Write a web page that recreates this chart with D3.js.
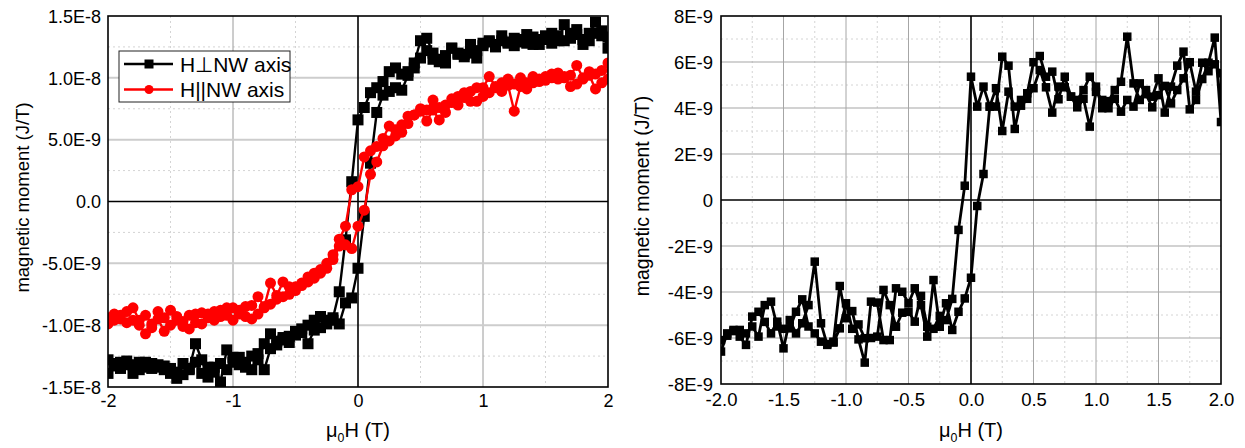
<!DOCTYPE html>
<html>
<head>
<meta charset="utf-8">
<script src="https://cdn.jsdelivr.net/npm/d3@7"></script>
<style>
  html, body { margin: 0; padding: 0; background: #fff; }
  svg { display: block; font-family: Arial, "Liberation Sans", sans-serif; }
</style>
</head>
<body>
<svg id="chart" width="1245" height="448"></svg>
<script>
/* ================================================
   M(H) hysteresis loops — two panels
   values in units of 1E-9 J/T, field in T
   ================================================ */

// field grid shared by every branch (T)
const fieldT = [
  -2.00,-1.95,-1.90,-1.85,-1.80,-1.75,-1.70,-1.65,-1.60,-1.55,
  -1.50,-1.45,-1.40,-1.35,-1.30,-1.25,-1.20,-1.15,-1.10,-1.05,
  -1.00,-0.95,-0.90,-0.85,-0.80,-0.75,-0.70,-0.65,-0.60,-0.55,
  -0.50,-0.45,-0.40,-0.35,-0.30,-0.25,-0.20,-0.15,-0.10,-0.05,
   0.00,
   0.05, 0.10, 0.15, 0.20, 0.25, 0.30, 0.35, 0.40, 0.45, 0.50,
   0.55, 0.60, 0.65, 0.70, 0.75, 0.80, 0.85, 0.90, 0.95, 1.00,
   1.05, 1.10, 1.15, 1.20, 1.25, 1.30, 1.35, 1.40, 1.45, 1.50,
   1.55, 1.60, 1.65, 1.70, 1.75, 1.80, 1.85, 1.90, 1.95, 2.00
];

// ---- left panel, H perpendicular to NW axis (black) ----
const perpUp = [
  -13.9,-13.1,-13.0,-13.2,-13.9,-13.0,-13.4,-13.1,-13.4,-13.6,
  -13.9,-14.3,-13.1,-13.5,-11.5,-12.8,-14.2,-13.4,-14.6,-12.0,
  -13.0,-12.6,-13.4,-13.6,-12.3,-13.6,-11.9,-11.6,-11.2,-11.4,
  -10.8,-10.3,-11.5,-10.4,-10.2,-9.9,-9.6,-9.9,-8.2,-7.8,
  -5.4,
  -1.2, 3.1, 7.2, 8.6, 8.9, 9.2, 9.0, 10.2, 10.8, 11.6,
  12.2, 11.5, 11.3, 11.8, 12.4, 11.9, 11.7, 12.0, 11.6, 12.6,
  12.9, 12.5, 13.0, 12.8, 13.2, 12.9, 13.5, 12.7, 13.1, 13.4,
  13.6, 13.0, 14.3, 13.6, 13.9, 13.1, 13.6, 14.5, 13.8, 12.4
];
const perpDown = [
  -12.8,-13.3,-13.5,-12.9,-13.2,-13.6,-13.0,-13.5,-13.2,-13.3,
  -13.5,-13.8,-14.0,-13.6,-13.0,-13.9,-13.4,-13.8,-13.1,-13.6,
  -12.6,-13.2,-13.0,-12.5,-12.8,-11.5,-10.7,-11.3,-11.0,-10.9,
  -10.5,-10.6,-10.0,-9.6,-9.3,-9.6,-9.4,-7.3,-3.1, 1.6,
  6.6,
  7.6, 8.8, 9.2, 9.7, 10.5, 10.8, 10.3, 10.5, 11.2, 13.0,
  13.2, 12.0, 11.5, 11.2, 12.4, 12.0, 11.9, 12.7, 12.2, 12.8,
  13.0, 12.7, 13.4, 12.9, 12.6, 13.1, 12.8, 13.3, 12.7, 13.1,
  12.8, 13.4, 13.0, 13.2, 13.5, 12.7, 13.0, 13.6, 13.4, 13.3
];

// ---- left panel, H parallel to NW axis (red) ----
const paraUp = [
  -9.4,-9.1,-9.5,-9.8,-9.6,-10.0,-10.7,-10.2,-9.5,-10.5,
  -10.0,-9.6,-10.1,-10.3,-9.8,-9.9,-9.4,-9.6,-9.3,-9.2,
  -9.6,-9.1,-9.3,-9.5,-9.1,-8.6,-8.3,-7.9,-7.7,-7.5,
  -7.2,-6.8,-6.5,-6.2,-5.8,-5.4,-4.7,-3.6,-3.5,-3.8,
  -2.0,
  -0.7, 2.2, 3.2, 4.5, 4.9, 5.3, 5.6, 6.3, 7.0, 7.3,
  6.5, 7.4, 6.6, 7.2, 8.0, 7.8, 8.4, 8.1, 8.1, 8.5,
  8.8, 9.2, 8.9, 9.4, 7.3, 9.3, 9.1, 9.6, 9.7, 9.8,
  10.0, 9.9, 10.1, 9.3, 9.5, 9.9, 10.2, 9.1, 9.6, 9.9
];
const paraDown = [
  -9.9,-9.6,-9.2,-8.9,-8.6,-9.6,-9.2,-9.9,-8.9,-9.4,
  -8.8,-9.3,-9.7,-9.2,-9.1,-9.0,-9.1,-8.9,-8.8,-8.6,
  -8.6,-8.8,-8.5,-8.4,-7.7,-8.5,-6.6,-7.6,-6.5,-6.9,
  -6.9,-6.6,-6.1,-5.8,-5.5,-5.0,-4.3,-3.05,-2.0, 0.95,
  1.2,
  3.6, 4.1, 4.45, 5.1, 6.1, 5.8, 6.2, 6.9, 7.0, 7.5,
  7.4, 8.2, 7.6, 7.8, 8.3, 8.5, 8.8, 8.9, 9.2, 9.2,
  10.1, 9.3, 9.6, 9.9, 9.5, 10.0, 9.6, 10.1, 9.9, 10.1,
  10.3, 10.4, 10.0, 10.2, 11.0, 10.0, 10.5, 10.3, 10.6, 11.2
];

// ---- right panel (black) ----
const rightUp = [
  -6.59,-5.8,-5.65,-5.94,-6.3,-5.07,-4.86,-5.3,-5.8,-5.29,
  -6.45,-5.22,-5.8,-5.36,-4.57,-2.68,-5.36,-6.3,-6.16,-3.74,
  -5.14,-4.83,-6.06,-7.07,-4.42,-4.46,-6.09,-6.09,-3.84,-3.99,
  -4.49,-3.84,-4.57,-5.94,-3.48,-5.51,-4.49,-5.65,-4.86,-4.28,
  -3.38,
  -0.26, 1.13, 4.06, 4.06, 6.23, 5.84, 3.09, 4.35, 4.64, 5.99,
  6.26, 5.36, 5.58, 4.38, 5.36, 4.49, 4.35, 4.78, 5.36, 4.93,
  3.99, 4.3, 4.78, 5.14, 7.1, 5.07, 4.35, 4.78, 4.49, 5.29,
  3.8, 4.93, 5.84, 6.45, 3.94, 4.35, 5.26, 5.97, 7.06, 3.39
];
const rightDown = [
  -6.09,-5.9,-5.7,-5.65,-5.8,-5.5,-5.94,-4.57,-4.42,-5.5,
  -5.6,-5.58,-4.86,-4.32,-5.5,-5.8,-6.16,-6.26,-6.2,-5.58,
  -4.49,-5.6,-5.41,-6.01,-6.0,-5.94,-3.91,-4.57,-5.51,-4.9,
  -4.86,-5.29,-4.17,-5.51,-5.6,-5.04,-5.22,-4.3,-1.3, 0.62,
  5.36,
  4.06, 4.93, 4.06, 4.86, 3.0, 4.71, 4.06, 4.1, 4.4, 4.86,
  5.65, 4.9, 3.8, 4.93, 4.9, 4.5, 4.03, 4.4, 3.19, 4.7,
  4.35, 3.99, 4.4, 3.84, 4.35, 4.06, 5.07, 4.6, 4.03, 4.56,
  4.96, 4.2, 4.78, 5.29, 5.99, 4.71, 5.97, 5.6, 5.9, 5.51
];

// ---- ticks ----
const leftXTicks  = [-2, -1, 0, 1, 2];
const leftXLabels = ['-2', '-1', '0', '1', '2'];
const leftYTicks  = [-15, -10, -5, 0, 5, 10, 15];
const leftYLabels = ['-1.5E-8', '-1.0E-8', '-5.0E-9', '0.0', '5.0E-9', '1.0E-8', '1.5E-8'];

const rightXTicks  = [-2, -1.5, -1, -0.5, 0, 0.5, 1, 1.5, 2];
const rightXLabels = ['-2.0', '-1.5', '-1.0', '-0.5', '0.0', '0.5', '1.0', '1.5', '2.0'];
const rightYTicks  = [-8, -6, -4, -2, 0, 2, 4, 6, 8];
const rightYLabels = ['-8E-9', '-6E-9', '-4E-9', '-2E-9', '0', '2E-9', '4E-9', '6E-9', '8E-9'];

const legendLabels = ['H\u22a5NW axis', 'H||NW axis'];

// loop = ascending branch then descending branch back to -2 T
function loop(up, down) {
  const a = fieldT.map((h, i) => [h, up[i]]);
  const b = fieldT.map((h, i) => [h, down[i]]).reverse();
  return a.concat(b);
}

const svg = d3.select('#chart');

function drawPanel(p) {
  const x = d3.scaleLinear().domain([-2, 2]).range([p.left, p.right]);
  const y = d3.scaleLinear().domain(p.yDomain).range([p.bottom, p.top]);
  const g = svg.append('g');

  g.append('clipPath').attr('id', p.id + '-clip')
    .append('rect')
    .attr('x', p.left).attr('y', p.top)
    .attr('width', p.right - p.left).attr('height', p.bottom - p.top);

  // minor grid (dotted)
  g.selectAll('.gx-minor').data(p.xMinor).enter().append('line')
    .attr('x1', d => x(d)).attr('x2', d => x(d))
    .attr('y1', p.top).attr('y2', p.bottom)
    .attr('stroke', '#d4d4d4').attr('stroke-width', 1).attr('stroke-dasharray', '2,3');
  g.selectAll('.gy-minor').data(p.yMinor).enter().append('line')
    .attr('x1', p.left).attr('x2', p.right)
    .attr('y1', d => y(d)).attr('y2', d => y(d))
    .attr('stroke', '#d4d4d4').attr('stroke-width', 1).attr('stroke-dasharray', '2,3');

  // major grid
  g.selectAll('.gx-major').data(p.xMajor).enter().append('line')
    .attr('x1', d => x(d)).attr('x2', d => x(d))
    .attr('y1', p.top).attr('y2', p.bottom)
    .attr('stroke', p.xMajorColor).attr('stroke-width', p.xMajorWidth);
  g.selectAll('.gy-major').data(p.yMajor).enter().append('line')
    .attr('x1', p.left).attr('x2', p.right)
    .attr('y1', d => y(d)).attr('y2', d => y(d))
    .attr('stroke', p.yMajorColor).attr('stroke-width', p.yMajorWidth);

  // zero lines
  g.append('line').attr('x1', x(0)).attr('x2', x(0)).attr('y1', p.top).attr('y2', p.bottom)
    .attr('stroke', '#000').attr('stroke-width', 1.6);
  g.append('line').attr('x1', p.left).attr('x2', p.right).attr('y1', y(0)).attr('y2', y(0))
    .attr('stroke', '#000').attr('stroke-width', 1.6);

  // series
  const dataG = g.append('g').attr('clip-path', `url(#${p.id}-clip)`);
  const line = d3.line().x(d => x(d[0])).y(d => y(d[1]));
  p.series.forEach(s => {
    const pts = loop(s.up, s.down);
    dataG.append('path').datum(pts)
      .attr('d', line).attr('fill', 'none')
      .attr('stroke', s.color).attr('stroke-width', p.lineWidth)
      .attr('stroke-linejoin', 'round');
    if (s.shape === 'square') {
      dataG.selectAll(null).data(pts).enter().append('rect')
        .attr('x', d => x(d[0]) - p.marker / 2).attr('y', d => y(d[1]) - p.marker / 2)
        .attr('width', p.marker).attr('height', p.marker)
        .attr('fill', s.color);
    } else {
      dataG.selectAll(null).data(pts).enter().append('circle')
        .attr('cx', d => x(d[0])).attr('cy', d => y(d[1]))
        .attr('r', p.marker / 2)
        .attr('fill', s.color);
    }
  });

  // frame
  g.append('rect')
    .attr('x', p.left).attr('y', p.top)
    .attr('width', p.right - p.left).attr('height', p.bottom - p.top)
    .attr('fill', 'none').attr('stroke', '#000').attr('stroke-width', 1.6);

  // axes (labels only)
  const ax = g.append('g').attr('transform', `translate(0,${p.bottom})`)
    .call(d3.axisBottom(x).tickValues(p.xTicks).tickSize(0).tickPadding(0)
      .tickFormat((d, i) => p.xLabels[i]));
  const ay = g.append('g').attr('transform', `translate(${p.left},0)`)
    .call(d3.axisLeft(y).tickValues(p.yTicks).tickSize(0).tickPadding(0)
      .tickFormat((d, i) => p.yLabels[i]));
  [ax, ay].forEach(a => {
    a.select('.domain').remove();
    a.selectAll('text').attr('fill', '#000').attr('font-size', p.tickFont)
      .attr('font-family', 'Arial, "Liberation Sans", sans-serif');
  });
  ax.selectAll('text').attr('y', p.xLabelGap).attr('dy', '0.71em');
  ay.selectAll('text').attr('x', -p.yLabelGap).attr('dy', '0.35em');

  // axis titles
  const xt = g.append('text')
    .attr('x', (p.left + p.right) / 2).attr('y', p.xTitleY)
    .attr('text-anchor', 'middle').attr('font-size', p.xTitleFont);
  xt.append('tspan').text('\u03bc');
  xt.append('tspan').attr('font-size', p.xTitleFont * 0.62).attr('dy', 5).text('0');
  xt.append('tspan').attr('dy', -5).text('H (T)');

  g.append('text')
    .attr('transform', `translate(${p.yTitleX},${(p.top + p.bottom) / 2 - 4}) rotate(-90)`)
    .attr('text-anchor', 'middle').attr('font-size', p.yTitleFont)
    .text('magnetic moment (J/T)');

  return { g, x, y };
}

drawPanel({
  id: 'left', left: 108, right: 608, top: 16, bottom: 387,
  yDomain: [-15, 15],
  xTicks: leftXTicks, xLabels: leftXLabels, yTicks: leftYTicks, yLabels: leftYLabels,
  xMajor: [-1, 1], xMinor: [-1.5, -0.5, 0.5, 1.5],
  yMajor: [-10, -5, 5, 10], yMinor: [-12.5, -7.5, -2.5, 2.5, 7.5, 12.5],
  xMajorColor: '#9a9a9a', xMajorWidth: 1, yMajorColor: '#cdcdcd', yMajorWidth: 2,
  lineWidth: 2.4, marker: 11,
  tickFont: 18, xTitleFont: 20, yTitleFont: 18.5, xLabelGap: 7, yLabelGap: 7,
  xTitleY: 437, yTitleX: 29,
  series: [
    { up: perpUp, down: perpDown, color: '#000', shape: 'square' },
    { up: paraUp, down: paraDown, color: '#ff0000', shape: 'circle' }
  ]
});

drawPanel({
  id: 'right', left: 721, right: 1221, top: 16, bottom: 384,
  yDomain: [-8, 8],
  xTicks: rightXTicks, xLabels: rightXLabels, yTicks: rightYTicks, yLabels: rightYLabels,
  xMajor: [-1.5, -1, -0.5, 0.5, 1, 1.5],
  xMinor: [-1.75, -1.25, -0.75, -0.25, 0.25, 0.75, 1.25, 1.75],
  yMajor: [-6, -4, -2, 2, 4, 6], yMinor: [-7, -5, -3, -1, 1, 3, 5, 7],
  xMajorColor: '#a6a6a6', xMajorWidth: 1, yMajorColor: '#a6a6a6', yMajorWidth: 1.2,
  lineWidth: 2.8, marker: 8.5,
  tickFont: 18.5, xTitleFont: 20, yTitleFont: 19.5, xLabelGap: 9, yLabelGap: 8,
  xTitleY: 437, yTitleX: 649,
  series: [
    { up: rightUp, down: rightDown, color: '#000', shape: 'square' }
  ]
});

// ---- legend (left panel) ----
const lg = svg.append('g');
lg.append('rect').attr('x', 119).attr('y', 51).attr('width', 171).attr('height', 51)
  .attr('fill', '#fff').attr('stroke', '#222').attr('stroke-width', 1);
const legendColors = ['#000', '#ff0000'];
legendLabels.forEach((lab, i) => {
  const cy = 64 + i * 25.5;
  lg.append('line').attr('x1', 124).attr('x2', 173).attr('y1', cy).attr('y2', cy)
    .attr('stroke', legendColors[i]).attr('stroke-width', 2.4);
  if (i === 0) {
    lg.append('rect').attr('x', 149 - 4.5).attr('y', cy - 4.5).attr('width', 9).attr('height', 9)
      .attr('fill', legendColors[i]);
  } else {
    lg.append('circle').attr('cx', 149).attr('cy', cy).attr('r', 4.5).attr('fill', legendColors[i]);
  }
  lg.append('text').attr('x', 180).attr('y', cy).attr('dy', '0.36em')
    .attr('font-size', 21).text(lab);
});
</script>
</body>
</html>
